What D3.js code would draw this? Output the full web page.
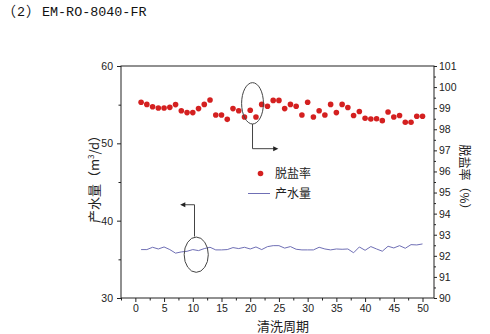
<!DOCTYPE html>
<html><head><meta charset="utf-8">
<script src="https://cdn.jsdelivr.net/npm/d3@7"></script>
<style>body{margin:0;background:#fff}svg{display:block}</style>
</head><body>
<script>
const cycles = d3.range(1, 51);
const saltRejection = [99.28,99.18,99.07,99.01,99.01,99.04,99.17,98.88,98.79,98.79,
  98.98,99.18,99.39,98.68,98.68,98.47,98.98,98.88,98.58,98.90,
  98.58,99.18,99.09,99.37,99.37,98.98,99.18,99.09,98.68,99.28,
  98.58,98.88,98.68,99.18,98.79,99.18,99.03,98.65,98.84,98.52,
  98.49,98.50,98.41,98.82,98.58,98.65,98.33,98.33,98.62,98.62];
const waterFlow = [36.26,36.26,36.56,36.34,36.60,36.26,35.80,35.96,36.04,36.26,
  36.13,36.39,36.56,36.22,36.22,36.26,36.52,36.39,36.56,36.34,
  36.60,36.26,36.64,36.77,36.77,36.45,36.65,36.30,36.22,36.22,
  36.22,36.56,36.34,36.22,36.34,36.30,36.34,35.85,36.60,36.17,
  36.65,36.34,36.05,36.69,36.47,36.77,36.43,36.90,36.86,36.99];
const xTicks = [0,5,10,15,20,25,30,35,40,45,50];
const leftTicks = [30,40,50,60];
const rightTicks = d3.range(90, 102);

const W = 490, H = 334;
const svg = d3.select("body").append("svg").attr("width", W).attr("height", H);
const L = 121, R = 434, T = 66, B = 298;
const x = d3.scaleLinear().domain([-2.5, 52]).range([L, R]);
const yL = d3.scaleLinear().domain([30, 60]).range([B, T]);
const yR = d3.scaleLinear().domain([90, 101]).range([B, T]);

// title
const tt = svg.append("text").attr("y", 16)
  .style("font-family", "'Noto Sans CJK SC'").style("font-size", "14px").attr("fill","#111");
tt.append("tspan").attr("x", 2).text("（");
tt.append("tspan").attr("x", 17).style("font-family", "'Liberation Mono', monospace").style("font-size", "13.4px").text("2");
tt.append("tspan").attr("x", 26).text("）");
svg.append("text").attr("x", 42).attr("y", 16)
  .style("font-family", "'Liberation Mono', monospace").style("font-size", "13.4px").attr("fill","#111").text("EM-RO-8040-FR");

const tickFont = g => g.selectAll("text").style("font-family", "'Liberation Sans', Arial").style("font-size", "10.5px").attr("fill", "#222");

// axes
const gx = svg.append("g").attr("transform", `translate(0,${B})`)
  .call(d3.axisBottom(x).tickValues(xTicks).tickSize(4).tickPadding(3));
gx.call(tickFont);
svg.append("g").attr("transform", `translate(0,${B})`)
  .call(d3.axisBottom(x).tickValues(d3.range(-2.5, 52, 5)).tickSize(2.5).tickFormat(""));
const gl = svg.append("g").attr("transform", `translate(${L},0)`)
  .call(d3.axisLeft(yL).tickValues(leftTicks).tickSize(4).tickPadding(4));
gl.call(tickFont);
svg.append("g").attr("transform", `translate(${L},0)`)
  .call(d3.axisLeft(yL).tickValues([35,45,55]).tickSize(2.5).tickFormat(""));
const gr = svg.append("g").attr("transform", `translate(${R},0)`)
  .call(d3.axisRight(yR).tickValues(rightTicks).tickSize(3).tickPadding(2));
gr.call(tickFont);
svg.append("g").attr("transform", `translate(${R},0)`)
  .call(d3.axisRight(yR).tickValues(d3.range(90.5, 101, 1)).tickSize(2).tickFormat(""));
svg.selectAll(".domain").remove();
svg.selectAll(".tick line").attr("stroke", "#222");
svg.append("rect").attr("x", L).attr("y", T).attr("width", R - L).attr("height", B - T)
  .attr("fill", "none").attr("stroke", "#222").attr("stroke-width", 1);

// axis titles
const cjk = "'Noto Sans CJK SC'";
svg.append("text").attr("transform", `translate(99,176) rotate(-90)`).attr("text-anchor", "middle")
  .style("font-family", cjk).style("font-size", "13px").attr("fill", "#222")
  .html('产水量（m<tspan dy="-5" font-size="8px">3</tspan><tspan dy="5">/d）</tspan>');
svg.append("text").attr("transform", `translate(460,180) rotate(90)`).attr("text-anchor", "middle")
  .style("font-family", cjk).style("font-size", "12px").attr("fill", "#222").text("脱盐率（%）");
svg.append("text").attr("x", 283).attr("y", 331).attr("text-anchor", "middle")
  .style("font-family", cjk).style("font-size", "13px").attr("fill", "#222").text("清洗周期");

// data
svg.append("path").datum(waterFlow)
  .attr("d", d3.line().x((d, i) => x(cycles[i])).y(d => yL(d)))
  .attr("fill", "none").attr("stroke", "#6f6fb5").attr("stroke-width", 1);
svg.selectAll("circle.pt").data(saltRejection).join("circle").attr("class", "pt")
  .attr("cx", (d, i) => x(cycles[i])).attr("cy", d => yR(d)).attr("r", 2.8).attr("fill", "#d42020");

// annotations
const ann = svg.append("g").attr("fill", "none").attr("stroke", "#444").attr("stroke-width", 1);
ann.append("ellipse").attr("cx", x(20.4)).attr("cy", yR(99.23)).attr("rx", x(20.4 + 1.9) - x(20.4)).attr("ry", yR(98.25) - yR(99.23));
ann.append("path").attr("d", d3.line()([[x(20.4), yR(98.25)], [x(20.4), yR(97.08)], [x(24.3), yR(97.08)]]));
svg.append("path").attr("d", d3.line()([[x(24.9), yR(97.08)], [x(24.0), yR(97.08) - 2.5], [x(24.0), yR(97.08) + 2.5]]) + "Z").attr("fill", "#222");
ann.append("ellipse").attr("cx", x(10.6)).attr("cy", yL(35.6)).attr("rx", x(10.6 + 2.1) - x(10.6)).attr("ry", yL(35.6) - yL(37.88));
ann.append("path").attr("d", d3.line()([[x(10.3), yL(37.95)], [x(10.3), yL(42.06)], [x(8.4), yL(42.06)]]));
svg.append("path").attr("d", d3.line()([[x(7.8), yL(42.06)], [x(8.7), yL(42.06) - 2.5], [x(8.7), yL(42.06) + 2.5]]) + "Z").attr("fill", "#222");

// legend
const lg = svg.append("g");
lg.append("circle").attr("cx", 260.5).attr("cy", 173.5).attr("r", 2.8).attr("fill", "#d42020");
lg.append("text").attr("x", 275).attr("y", 178).style("font-family", cjk).style("font-size", "12px").attr("fill", "#222").text("脱盐率");
lg.append("line").attr("x1", 248).attr("x2", 270).attr("y1", 193.5).attr("y2", 193.5).attr("stroke", "#6f6fb5");
lg.append("text").attr("x", 275).attr("y", 198).style("font-family", cjk).style("font-size", "12px").attr("fill", "#222").text("产水量");
</script>
</body></html>
